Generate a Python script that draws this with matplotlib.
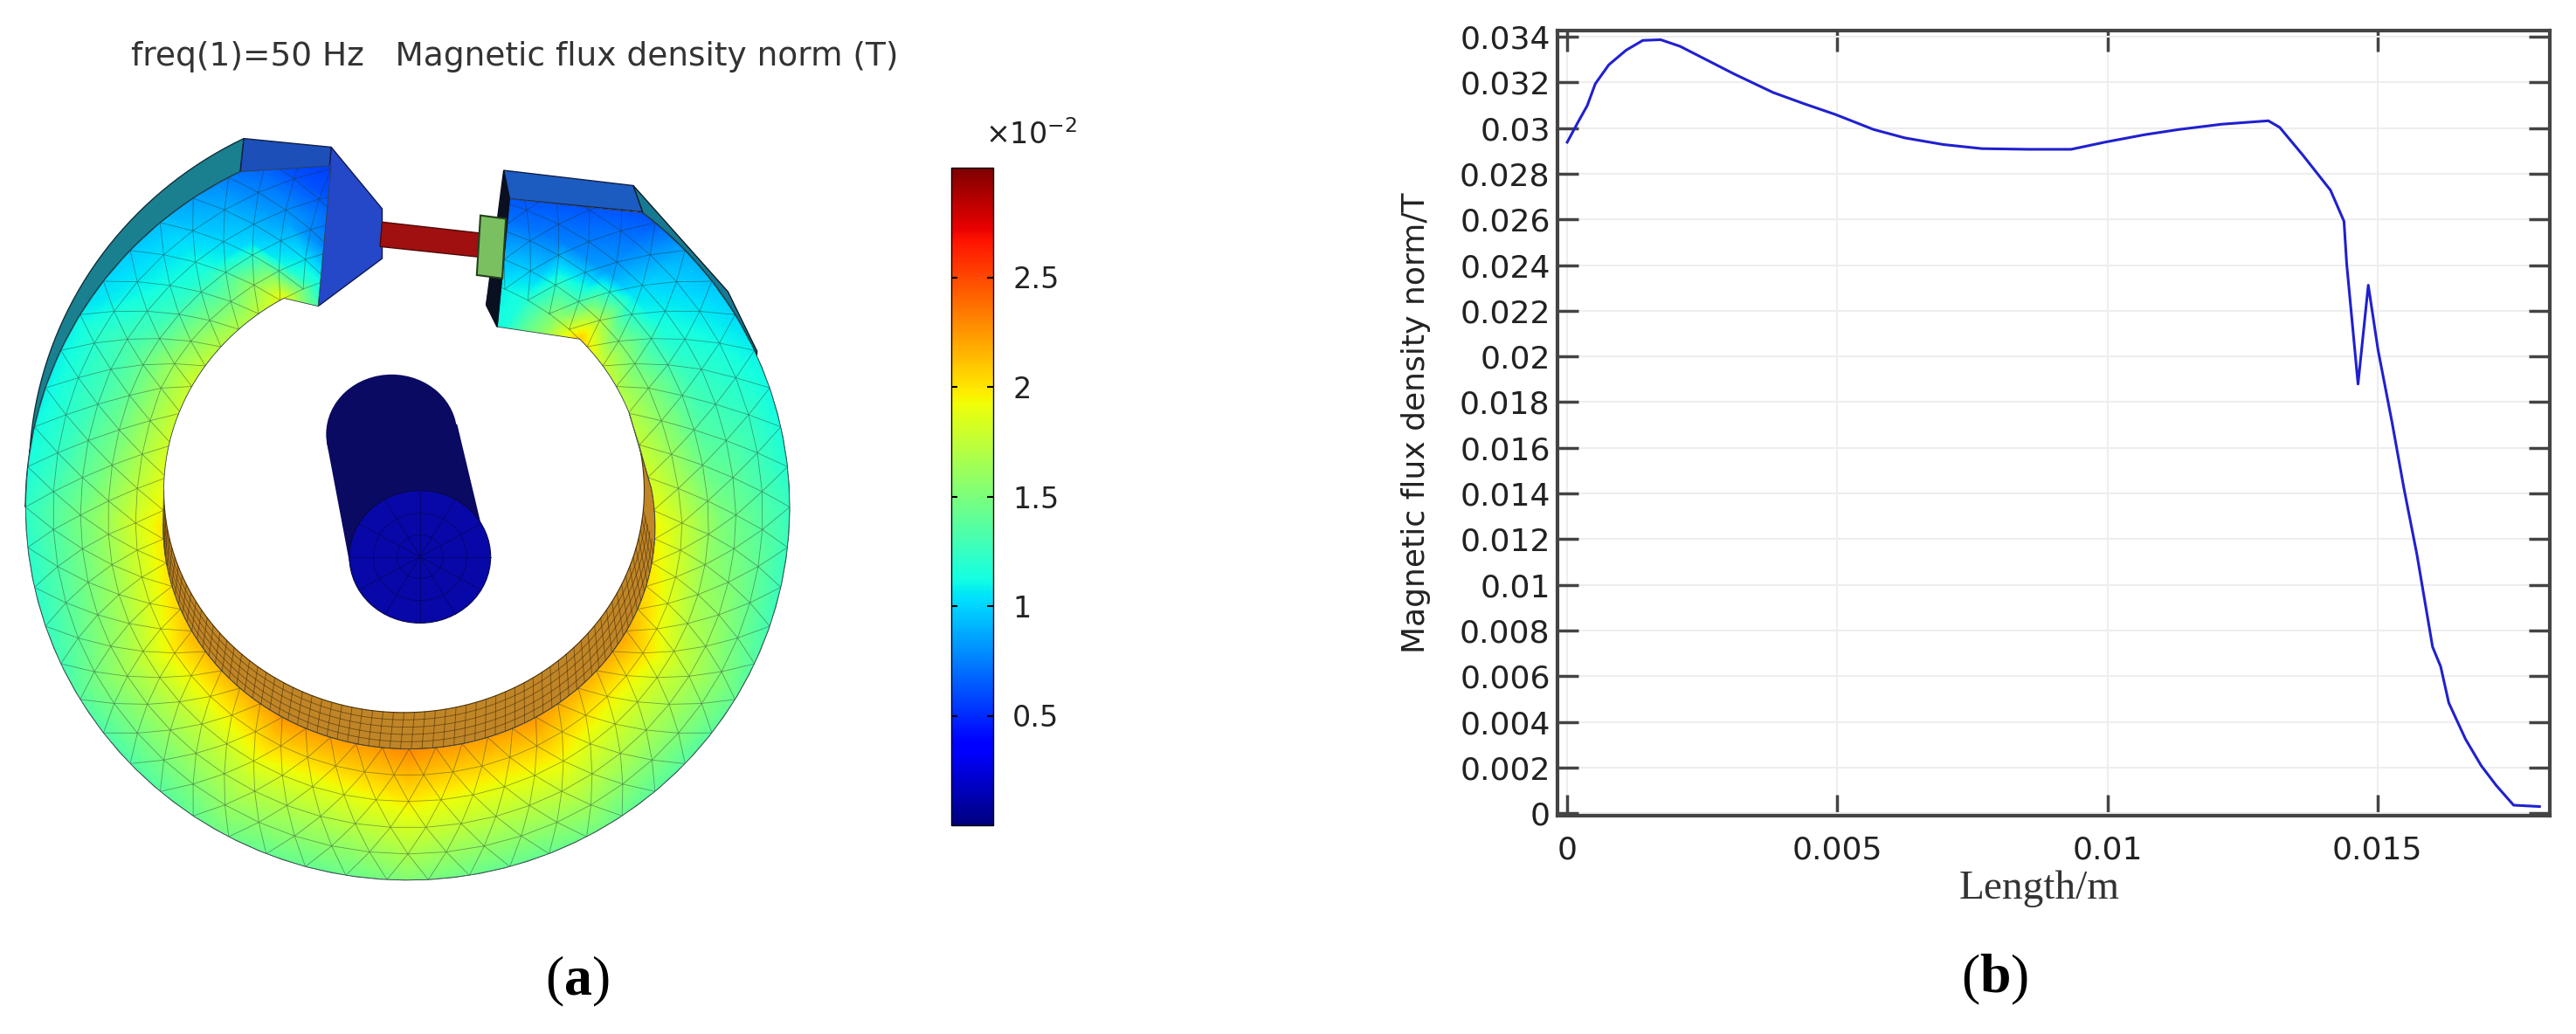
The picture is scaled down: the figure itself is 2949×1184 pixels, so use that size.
import numpy as np
import matplotlib
matplotlib.use("Agg")
import matplotlib.pyplot as plt
import matplotlib.tri as mtri
from matplotlib.cm import ScalarMappable
from matplotlib.colors import Normalize
from matplotlib.patches import PathPatch, Polygon, Ellipse
from matplotlib.path import Path

W, H = 2949, 1184

# right panel: flux density along the line
length_m = [0, .0002, .00037, .00052, .00077, .00109, .0014, .00173, .00209, .00252,
            .00309, .00381, .00438, .00496, .00567, .00625, .00696, .00768, .00854,
            .00933, .00997, .01069, .01133, .01212, .01298, .01319, .01362, .01413,
            .01438, .01443, .01464, .01483, .01501, .01527, .01549, .01573, .01602,
            .01617, .01632, .01663, .01692, .0172, .01752, .018]
flux_t = [.02938, .03026, .03098, .03194, .03277, .03341, .03384, .03387, .03358, .03306,
          .03237, .03156, .03107, .0306, .02994, .02957, .02928, .0291, .02907,
          .02907, .02939, .02971, .02994, .03017, .03032, .03003, .02881, .02728,
          .02592, .02405, .01879, .02312, .02029, .01711, .01422, .01133, .00728,
          .00642, .00483, .00324, .00208, .00121, .00035, .00029]
x_ticks = [0, .005, .01, .015]
x_tick_labels = ["0", "0.005", "0.01", "0.015"]
y_ticks = [i * .002 for i in range(18)]
y_tick_labels = ["0", "0.002", "0.004", "0.006", "0.008", "0.01", "0.012", "0.014", "0.016",
                 "0.018", "0.02", "0.022", "0.024", "0.026", "0.028", "0.03", "0.032", "0.034"]

# left panel: field on the core face (x10^-2 T), clockwise from the top of the ring
ring_angle = [5, 20, 30, 40, 47, 55, 65, 90, 120, 150, 180, 210, 240, 270, 300, 320, 330, 338, 350, 358]
field_inner = [1.0, 1.05, 1.15, 1.6, 2.1, 1.8, 1.7, 1.95, 2.2, 2.25, 2.3, 2.25, 2.15, 2.0, 1.8, 1.7, 1.9, 1.2, .7, .6]
field_mid = [.6, .7, .75, .85, 1.05, 1.15, 1.25, 1.5, 1.75, 1.85, 1.9, 1.8, 1.7, 1.55, 1.35, 1.15, 1.0, .85, .6, .55]
field_outer = [.4, .45, .5, .6, .85, .95, 1.05, 1.2, 1.35, 1.4, 1.45, 1.4, 1.3, 1.15, 1.05, .9, .75, .6, .5, .4]
cbar_ticks = [.5, 1, 1.5, 2, 2.5]
cbar_tick_labels = ["0.5", "1", "1.5", "2", "2.5"]

fig = plt.figure(figsize=(W / 100, H / 100), dpi=100, facecolor="white")


def arc(cx, cy, rx, ry, a0, a1, n=80):
    # angles clockwise from the top, image coordinates
    a = np.radians(np.linspace(a0, a1, n))
    return np.column_stack([cx + rx * np.sin(a), cy - ry * np.cos(a)])


def outer_edge(a0, a1, n=80):
    return arc(560, 765, 525, 563, a0, a1, n)


def back_edge(a0, a1, n=40):
    return arc(565, 715, 525, 563, a0, a1, n)


def hole_edge(a0, a1, n=60):
    return arc(555, 740, 330, 335, a0, a1, n)


def low_edge(a0, a1, n=80):
    return arc(562, 795, 338, 335, a0, a1, n)


def inner_at(a):
    # front inner boundary for one angle
    rad = np.radians(a)
    hole = np.array([555 + 330 * np.sin(rad), 740 - 335 * np.cos(rad)])
    low = np.array([562 + 338 * np.sin(rad), 795 - 335 * np.cos(rad)])
    w = np.clip((np.abs(a - 180) - 90) / 25, 0, 1)
    return hole * w + low * (1 - w)


ax_a = fig.add_axes([0, 0, 1300 / W, 1])
ax_a.set_xlim(0, 1560)
ax_a.set_ylim(1560, 0)
ax_a.axis("off")

# side faces behind the front face
left_strip = np.vstack([back_edge(270, 334), outer_edge(334, 270)])
ax_a.add_patch(Polygon(left_strip, fc="#1a8090", ec="#10303a", lw=1, zorder=1))
ax_a.add_patch(Polygon([(335, 209), (455, 222), (462, 252), (330, 262)], fc="#1c4fb8", ec="#10204a", lw=1, zorder=1))
ax_a.add_patch(Polygon([(692, 257), (870, 280), (885, 320), (700, 300)], fc="#1c5cc0", ec="#10204a", lw=1, zorder=1))
right_strip = np.vstack([[(870, 280), (1000, 440), (1040, 530)], outer_edge(66, 38, 20)])
ax_a.add_patch(Polygon(right_strip, fc="#167a92", ec="#101820", lw=1, zorder=1))
ax_a.add_patch(Polygon([(692, 257), (700, 300), (683, 493), (668, 460)], fc="#0a1020", ec="#0a1020", zorder=1))
ax_a.add_patch(Polygon([(455, 222), (525, 315), (525, 390), (437, 462)], fc="#2448c8", ec="#101850", lw=1, zorder=1))

# inner wall of the ring
wall = np.vstack([hole_edge(70, 270, 120), low_edge(270, 80, 100)])
ax_a.add_patch(Polygon(wall, fc="#c08526", ec="#4a3008", lw=.8, zorder=1))
for frac in [.2, .4, .6, .8]:
    a = np.linspace(95, 265, 100)
    p = np.array([hole_edge(v, v, 1)[0] * (1 - frac) + low_edge(v, v, 1)[0] * frac for v in a])
    ax_a.plot(p[:, 0], p[:, 1], color="#3a2606", lw=.6, alpha=.6, zorder=2)
for v in np.arange(95, 266, 2.5):
    p0, p1 = hole_edge(v, v, 1)[0], low_edge(v + 2, v + 2, 1)[0]
    ax_a.plot([p0[0], p1[0]], [p0[1], p1[1]], color="#3a2606", lw=.6, alpha=.6, zorder=2)

# front face outline, used to clip the field and the mesh
front = np.vstack([[(700, 300)], outer_edge(38, 334), [(455, 250), (437, 462)],
                   hole_edge(330, 270, 30), low_edge(270, 80), hole_edge(70, 47, 15),
                   [(683, 493)]])
front_patch = PathPatch(Path(np.vstack([front, front[0]])), fc="none", ec="none")
ax_a.add_patch(front_patch)

rows = [(-.35, field_inner), (0, field_inner), (.5, field_mid), (1.1, field_outer)]
px, py, pv = [], [], []
for t, vals in rows:
    for a, v in zip(ring_angle, vals):
        rad = np.radians(a)
        out = np.array([560 + 525 * np.sin(rad), 765 - 563 * np.cos(rad)])
        p = inner_at(a) * (1 - t) + out * t
        px.append(p[0])
        py.append(p[1])
        pv.append(v)
na = len(ring_angle)
tris = []
for r in range(len(rows) - 1):
    for i in range(na - 1):
        a0 = r * na + i
        tris += [[a0, a0 + 1, a0 + na], [a0 + 1, a0 + na + 1, a0 + na]]
# refine so the colours follow jet instead of blending straight in RGB
fine_tri, fine_v = mtri.UniformTriRefiner(mtri.Triangulation(px, py, tris)).refine_field(
    np.array(pv), mtri.LinearTriInterpolator(mtri.Triangulation(px, py, tris), np.array(pv)), subdiv=4)
tp = ax_a.tripcolor(fine_tri, fine_v, cmap="jet", vmin=0, vmax=3, shading="gouraud", zorder=3)
tp.set_clip_path(front_patch)

# triangle mesh on the front face
nodes_x, nodes_y, n_rows, n_ang = [], [], 6, 58
for r in range(n_rows):
    for i in range(n_ang):
        a = (i + .5 * (r % 2)) * 360 / n_ang
        rad = np.radians(a)
        out = np.array([560 + 525 * np.sin(rad), 765 - 563 * np.cos(rad)])
        p = inner_at(a) + (out - inner_at(a)) * r / (n_rows - 1)
        nodes_x.append(p[0])
        nodes_y.append(p[1])
mesh = []
for r in range(n_rows - 1):
    for i in range(n_ang):
        j = (i + 1) % n_ang
        a, b = r * n_ang + i, r * n_ang + j
        c, d = (r + 1) * n_ang + i, (r + 1) * n_ang + j
        mesh += [[a, b, c], [b, d, c]] if r % 2 == 0 else [[a, b, d], [a, d, c]]
for line in ax_a.triplot(mtri.Triangulation(nodes_x, nodes_y, mesh), color="#20302a", lw=.6, alpha=.45, zorder=4):
    line.set_clip_path(front_patch)
ax_a.add_patch(Polygon(front, fc="none", ec="#304048", lw=.6, zorder=5))

# air gap rod and the small coil piece
ax_a.add_patch(Polygon([(525, 335), (662, 352), (660, 388), (522, 372)], fc="#a01010", ec="#500808", lw=1, zorder=6))
ax_a.add_patch(Polygon([(660, 325), (695, 330), (690, 420), (655, 415)], fc="#7ac060", ec="#25401c", lw=1.5, zorder=7))
ax_a.add_patch(Polygon([(668, 460), (692, 300), (700, 300), (683, 493)], fc="#0a1020", ec="#0a1020", zorder=6))

# conductor in the middle
ax_a.add_patch(Ellipse((538, 655), 180, 180, fc="#0a0a62", ec="none", zorder=6))
ax_a.add_patch(Polygon([(449, 668), (628, 640), (671, 838), (482, 860)], fc="#0a0a62", ec="none", zorder=6))
ax_a.add_patch(Ellipse((577, 840), 194, 200, fc="#0808a8", ec="#06064a", lw=.8, zorder=7))
for a in np.arange(0, 180, 30):
    p = arc(577, 840, 97, 100, a, a + 180, 2)
    ax_a.plot(p[:, 0], p[:, 1], color="#05056a", lw=.6, zorder=8)
for frac in [.33, .66]:
    ax_a.add_patch(Ellipse((577, 840), 194 * frac, 200 * frac, fc="none", ec="#05056a", lw=.6, zorder=8))

ax_a.text(707, 85, "freq(1)=50 Hz   Magnetic flux density norm (T)", ha="center", va="center",
          fontsize=27, color="#333333")
ax_a.text(775, 1480, "(", ha="right", va="center", fontsize=46, family="Liberation Serif")
ax_a.text(794, 1480, "a", ha="center", va="center", fontsize=46, family="Liberation Serif", weight="bold")
ax_a.text(813, 1480, ")", ha="left", va="center", fontsize=46, family="Liberation Serif")

# colour bar
cax = fig.add_axes([1089 / W, 1 - 945 / H, 48 / W, 753 / H])
cb = fig.colorbar(ScalarMappable(Normalize(0, 3), "jet"), cax=cax, ticks=cbar_ticks)
cb.ax.set_yticklabels(cbar_tick_labels)
cb.ax.tick_params(axis="y", direction="in", left=True, right=True, length=5, width=1.5,
                  labelsize=24, pad=16, labelcolor="#222222")
cb.outline.set_linewidth(1)
fig.text(1180 / W, 1 - 155 / H, "×10$^{-2}$", ha="center", va="center", fontsize=24, color="#222222")

# right panel
ax_b = fig.add_axes([1783 / W, 1 - 934 / H, 1136 / W, 899 / H])
ax_b.plot(length_m, flux_t, color="#2020d0", lw=2.2)
ax_b.set_xlim(-.00018, .01819)
ax_b.set_ylim(-.00011, .03427)
ax_b.set_xticks(x_ticks, x_tick_labels)
ax_b.set_yticks(y_ticks, y_tick_labels)
ax_b.grid(color="#eeeeee", lw=1.5)
ax_b.set_axisbelow(True)
ax_b.tick_params(axis="both", direction="in", top=True, right=True, length=17, width=2.5,
                 color="#444444", labelsize=26, labelcolor="#222222")
ax_b.tick_params(axis="x", pad=16)
ax_b.tick_params(axis="y", pad=6)
for side in ax_b.spines.values():
    side.set_color("#444444")
    side.set_linewidth(3)
fig.text(2335 / W, 1 - 1018 / H, "Length/m", ha="center", va="center", fontsize=34,
         family="Liberation Serif", color="#333333")
ax_b.set_ylabel("Magnetic flux density norm/T", fontsize=26, color="#222222", labelpad=24)

fig.text(2266 / W, 1 - 1121 / H, "(", ha="right", va="center", fontsize=46, family="Liberation Serif")
fig.text(2266 / W, 1 - 1121 / H, "b", ha="left", va="center", fontsize=46, family="Liberation Serif", weight="bold")
fig.text(2302 / W, 1 - 1121 / H, ")", ha="left", va="center", fontsize=46, family="Liberation Serif")

fig.savefig("out.png", dpi=100)
